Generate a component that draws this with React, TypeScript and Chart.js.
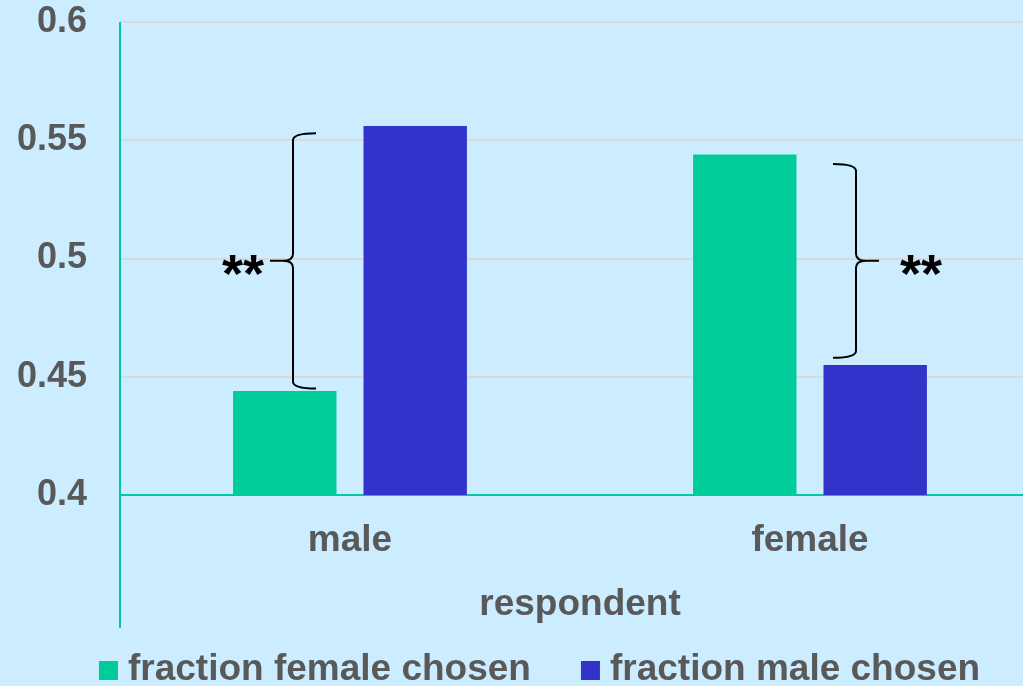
import React, { useEffect, useRef } from "react";
import { Chart, registerables } from "chart.js";

Chart.register(...registerables);

// ---- data ----
const categories = ["male", "female"];
const seriesNames = ["fraction female chosen", "fraction male chosen"];
const femaleChosen = [0.444, 0.544];
const maleChosen = [0.556, 0.455];
const yTicks = [0.4, 0.45, 0.5, 0.55, 0.6];
const axisTitle = "respondent";
// significance brackets: category index, value at top, value at bottom, label, side
const bracketCats = [0, 1];
const bracketTop = [0.553, 0.54];
const bracketBottom = [0.445, 0.458];
const bracketLabels = ["**", "**"];
const bracketSide = ["left", "right"];

// ---- styles ----
const BG = "#ccecff";
const GREEN = "#00cc99";
const BLUE = "#3333cc";
const TEXT = "#595959";
const GRID = "#d9d9d9";
const FONT = "'Liberation Sans', Arial, Helvetica, sans-serif";

const annotations = {
  id: "annotations",
  beforeDatasetsDraw(chart: any) {
    const { ctx, chartArea } = chart;
    ctx.save();
    ctx.strokeStyle = GREEN;
    ctx.lineWidth = 2;
    ctx.beginPath();
    ctx.moveTo(chartArea.left, chartArea.top);
    ctx.lineTo(chartArea.left, 628);
    ctx.stroke();
    ctx.restore();
  },
  afterDatasetsDraw(chart: any) {
    const { ctx, scales } = chart;
    const x = scales.x;
    const y = scales.y;
    ctx.save();
    for (let i = 0; i < bracketCats.length; i++) {
      const cx = x.getPixelForValue(bracketCats[i]);
      const left = bracketSide[i] === "left";
      const spine = left ? cx - 57 : cx + 46;
      const dir = left ? -1 : 1;
      const tip = spine - dir * 23;
      const mid = spine + dir * 23;
      const yTop = y.getPixelForValue(bracketTop[i]);
      const yBot = y.getPixelForValue(bracketBottom[i]);
      const ym = (yTop + yBot) / 2;
      const r = 7;
      ctx.strokeStyle = "#000";
      ctx.lineWidth = 2;
      ctx.beginPath();
      ctx.moveTo(tip, yTop);
      ctx.quadraticCurveTo(spine, yTop, spine, yTop + r);
      ctx.lineTo(spine, ym - r);
      ctx.quadraticCurveTo(spine, ym, spine + dir * 10, ym);
      ctx.lineTo(mid, ym);
      ctx.moveTo(spine + dir * 10, ym);
      ctx.quadraticCurveTo(spine, ym, spine, ym + r);
      ctx.lineTo(spine, yBot - r);
      ctx.quadraticCurveTo(spine, yBot, tip, yBot);
      ctx.stroke();

      ctx.font = `bold 54px ${FONT}`;
      ctx.fillStyle = "#000";
      ctx.textAlign = "left";
      ctx.textBaseline = "alphabetic";
      const m = ctx.measureText(bracketLabels[i]);
      const gw = m.actualBoundingBoxLeft + m.actualBoundingBoxRight;
      const baseY = ym + 5 + (m.actualBoundingBoxAscent - m.actualBoundingBoxDescent) / 2;
      const glyphLeft = left ? mid - 6 - gw : mid + 21;
      ctx.fillText(bracketLabels[i], glyphLeft + m.actualBoundingBoxLeft, baseY);
    }
    ctx.restore();
  },
  afterDraw(chart: any) {
    const { ctx } = chart;
    ctx.save();
    ctx.font = `bold 37px ${FONT}`;
    ctx.textBaseline = "alphabetic";
    ctx.textAlign = "left";
    const colors = [GREEN, BLUE];
    const box = 19;
    const gapBox = 10;
    const gapItem = 50;
    const widths = seriesNames.map((s) => ctx.measureText(s).width);
    const total = widths.reduce((a, w) => a + box + gapBox + w, 0) + gapItem * (seriesNames.length - 1);
    let xPos = 539.5 - total / 2;
    const base = 680;
    for (let i = 0; i < seriesNames.length; i++) {
      ctx.fillStyle = colors[i];
      ctx.fillRect(xPos, base - box, box, box);
      xPos += box + gapBox;
      ctx.fillStyle = TEXT;
      ctx.fillText(seriesNames[i], xPos, base);
      xPos += widths[i] + gapItem;
    }
    ctx.restore();
  },
};

export default function App() {
  const ref = useRef<HTMLCanvasElement | null>(null);

  useEffect(() => {
    document.body.style.margin = "0";
    document.body.style.background = BG;
    const canvas = ref.current!;
    const chart = new Chart(canvas, {
      type: "bar",
      data: {
        labels: categories,
        datasets: [
          {
            label: seriesNames[0],
            data: femaleChosen,
            backgroundColor: GREEN,
            barPercentage: 0.793,
            categoryPercentage: 0.567,
          },
          {
            label: seriesNames[1],
            data: maleChosen,
            backgroundColor: BLUE,
            barPercentage: 0.793,
            categoryPercentage: 0.567,
          },
        ],
      },
      options: {
        responsive: false,
        animation: false,
        layout: { padding: { top: 22, bottom: 59, left: 0, right: 0 } },
        plugins: {
          legend: { display: false },
          tooltip: { enabled: false },
        },
        scales: {
          x: {
            grid: { display: false, drawTicks: false },
            border: { display: false },
            afterFit: (s: any) => {
              s.height = 132;
            },
            ticks: {
              padding: 24,
              color: TEXT,
              font: { family: FONT, size: 37, weight: "bold" },
            },
            title: {
              display: true,
              text: axisTitle,
              color: TEXT,
              padding: 0,
              font: { family: FONT, size: 37, weight: "bold" },
            },
          },
          y: {
            min: yTicks[0],
            max: yTicks[yTicks.length - 1],
            afterBuildTicks: (s: any) => {
              s.ticks = yTicks.map((v) => ({ value: v }));
            },
            afterFit: (s: any) => {
              s.width = 120;
            },
            border: { display: false },
            grid: {
              drawTicks: true,
              tickLength: 33,
              tickColor: "rgba(0,0,0,0)",
              lineWidth: 2,
              color: (c: any) =>
                c.tick && Math.abs(c.tick.value - yTicks[0]) < 1e-9 ? GREEN : GRID,
            },
            ticks: {
              padding: 0,
              color: TEXT,
              font: { family: FONT, size: 36, weight: "bold" },
              callback: (v: any) => String(Number(Number(v).toFixed(2))),
            },
          },
        },
      },
      plugins: [annotations],
    });
    return () => chart.destroy();
  }, []);

  return (
    <div
      style={{
        position: "absolute",
        left: 0,
        top: 0,
        width: 1023,
        height: 686,
        overflow: "hidden",
        background: BG,
      }}
    >
      <canvas ref={ref} width={1040} height={686} style={{ display: "block" }} />
    </div>
  );
}
